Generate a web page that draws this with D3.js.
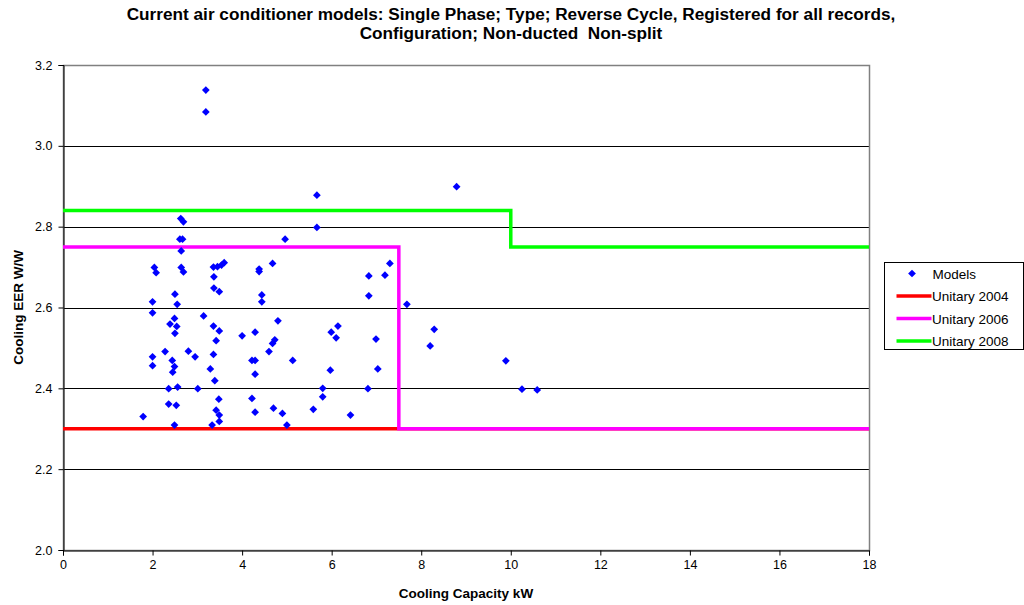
<!DOCTYPE html>
<html>
<head>
<meta charset="utf-8">
<script src="https://cdn.jsdelivr.net/npm/d3@7"></script>
<style>
  body { margin: 0; background: #fff; }
  svg { font-family: "Liberation Sans", Arial, sans-serif; }
</style>
</head>
<body>
<svg id="chart" width="1024" height="605"></svg>
<script>
// Models: cooling capacity (kW) and EER (W/W)
const capacity = [1.79, 2.04, 2.08, 2.00, 2.00, 2.00, 2.00, 2.49, 2.39, 2.54,
  2.50, 2.50, 2.55, 2.28, 2.44, 2.49, 2.45, 2.36, 2.56, 2.36,
  2.53, 2.49, 2.63, 2.69, 2.61, 2.67, 2.64, 2.64, 2.69, 2.80,
  2.95, 3.01, 3.14, 3.36, 3.45, 3.54, 3.60, 3.37, 3.37, 3.49,
  3.36, 3.49, 3.42, 3.36, 3.29, 3.39, 3.48, 3.42, 3.49, 3.49,
  3.33, 3.19, 3.19, 4.00, 4.29, 4.22, 4.29, 4.29, 4.22, 4.29,
  4.38, 4.38, 4.44, 4.44, 4.68, 4.96, 5.67, 5.67, 4.80, 4.73,
  4.68, 4.60, 5.13, 4.70, 4.90, 5.00, 6.14, 5.99, 6.10, 5.97,
  5.80, 5.80, 5.59, 6.42, 6.83, 7.19, 7.30, 6.83, 6.99, 7.03,
  6.81, 7.68, 8.29, 8.20, 8.79, 9.89, 10.25, 10.59];
const eer = [2.330, 2.699, 2.686, 2.614, 2.587, 2.478, 2.456, 2.573, 2.559, 2.553,
  2.536, 2.633, 2.608, 2.491, 2.469, 2.454, 2.440, 2.399, 2.403, 2.361,
  2.358, 2.309, 2.820, 2.812, 2.769, 2.769, 2.740, 2.699, 2.688, 2.492,
  2.478, 2.399, 2.579, 2.700, 2.701, 2.705, 2.711, 2.676, 2.648, 2.639,
  2.554, 2.542, 2.518, 2.484, 2.448, 2.419, 2.373, 2.346, 2.334, 2.318,
  2.309, 3.138, 3.084, 2.530, 2.539, 2.469, 2.469, 2.435, 2.375, 2.341,
  2.695, 2.689, 2.631, 2.614, 2.709, 2.769, 2.878, 2.798, 2.567, 2.520,
  2.511, 2.491, 2.469, 2.351, 2.338, 2.309, 2.554, 2.539, 2.525, 2.445,
  2.400, 2.379, 2.348, 2.334, 2.678, 2.680, 2.709, 2.629, 2.522, 2.448,
  2.399, 2.608, 2.546, 2.505, 2.899, 2.468, 2.398, 2.396];

// minimum standard lines (step shapes)
const unitary2004 = [[0, 2.3], [18, 2.3]];
const unitary2006 = [[0, 2.75], [7.5, 2.75], [7.5, 2.3], [18, 2.3]];
const unitary2008 = [[0, 2.84], [10, 2.84], [10, 2.75], [18, 2.75]];

const xTicks = [0, 2, 4, 6, 8, 10, 12, 14, 16, 18];
const yTicks = [2.0, 2.2, 2.4, 2.6, 2.8, 3.0, 3.2];

const legendNames = ["Models", "Unitary 2004", "Unitary 2006", "Unitary 2008"];
const lineColors = ["#ff0000", "#ff00ff", "#00ff00"];

const margin = { top: 65, right: 155, bottom: 55, left: 63 };
const width = 1024, height = 605;

const svg = d3.select("#chart");

const x = d3.scaleLinear().domain([0, 18]).range([margin.left, width - margin.right]);
const y = d3.scaleLinear().domain([2.0, 3.2]).range([height - margin.bottom, margin.top]);

// title
svg.append("text")
  .attr("x", 511).attr("y", 19.5)
  .attr("text-anchor", "middle")
  .attr("font-size", 17.2).attr("font-weight", "bold")
  .text("Current air conditioner models: Single Phase; Type; Reverse Cycle, Registered for all records,");
svg.append("text")
  .attr("x", 511).attr("y", 38.5)
  .attr("text-anchor", "middle")
  .attr("font-size", 17.2).attr("font-weight", "bold")
  .attr("xml:space", "preserve")
  .style("white-space", "pre")
  .text("Configuration; Non-ducted  Non-split");

// gridlines
svg.append("g")
  .selectAll("line")
  .data(yTicks.slice(1, -1))
  .join("line")
  .attr("x1", x(0)).attr("x2", x(18))
  .attr("y1", d => Math.round(y(d)) + 0.5).attr("y2", d => Math.round(y(d)) + 0.5)
  .attr("stroke", "#000").attr("stroke-width", 1);

// plot border (gray)
svg.append("rect")
  .attr("x", x(0) + 0.5).attr("y", y(3.2) + 0.5)
  .attr("width", x(18) - x(0)).attr("height", y(2.0) - y(3.2))
  .attr("fill", "none").attr("stroke", "#808080").attr("stroke-width", 1.5);

// axes
const xAxis = svg.append("g")
  .attr("transform", `translate(0,${Math.round(y(2.0)) + 0.5})`)
  .call(d3.axisBottom(x).tickValues(xTicks).tickSize(5).tickPadding(5).tickFormat(d3.format("d")));
const yAxis = svg.append("g")
  .attr("transform", `translate(${Math.round(x(0)) + 0.5},0)`)
  .call(d3.axisLeft(y).tickValues(yTicks).tickSize(5).tickPadding(6).tickFormat(d3.format(".1f")));
[xAxis, yAxis].forEach(a => {
  a.select(".domain").attr("stroke", "#000");
  a.selectAll(".tick line").attr("stroke", "#000");
  a.selectAll("text").attr("font-size", 12.5).attr("fill", "#000")
    .attr("font-family", "'Liberation Sans', Arial, sans-serif");
});

// axis titles
svg.append("text")
  .attr("x", (x(0) + x(18)) / 2).attr("y", 598)
  .attr("text-anchor", "middle")
  .attr("font-size", 13.5).attr("font-weight", "bold")
  .text("Cooling Capacity kW");
svg.append("text")
  .attr("transform", `translate(22.5,${(y(2.0) + y(3.2)) / 2}) rotate(-90)`)
  .attr("text-anchor", "middle")
  .attr("font-size", 13.5).attr("font-weight", "bold")
  .text("Cooling EER W/W");

// standard lines
const line = d3.line().x(d => x(d[0])).y(d => y(d[1]));
svg.append("g")
  .selectAll("path")
  .data([unitary2004, unitary2006, unitary2008])
  .join("path")
  .attr("d", line)
  .attr("fill", "none")
  .attr("stroke", (d, i) => lineColors[i])
  .attr("stroke-width", 3.5);

// models scatter
const diamond = d3.symbol(d3.symbolSquare, 30);
svg.append("g")
  .selectAll("path")
  .data(d3.range(capacity.length))
  .join("path")
  .attr("d", diamond)
  .attr("transform", i => `translate(${x(capacity[i])},${y(eer[i])}) rotate(45)`)
  .attr("fill", "#0000ff");

// legend
const lg = svg.append("g").attr("transform", "translate(884.5,262.5)");
lg.append("rect")
  .attr("width", 139).attr("height", 87)
  .attr("fill", "#fff").attr("stroke", "#000");
legendNames.forEach((name, i) => {
  const yy = 11 + i * 22.5;
  if (i === 0) {
    lg.append("path")
      .attr("d", diamond)
      .attr("transform", `translate(27.5,${yy}) rotate(45)`)
      .attr("fill", "#0000ff");
  } else {
    lg.append("line")
      .attr("x1", 12).attr("x2", 47)
      .attr("y1", yy).attr("y2", yy)
      .attr("stroke", lineColors[i - 1]).attr("stroke-width", 3.5);
  }
  lg.append("text")
    .attr("x", i === 0 ? 48 : 47.5).attr("y", yy + 5)
    .attr("font-size", 13.5)
    .text(name);
});
</script>
</body>
</html>
